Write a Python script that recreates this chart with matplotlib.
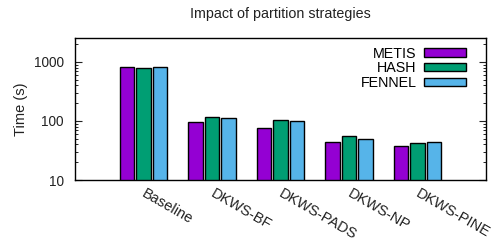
import matplotlib
matplotlib.use("Agg")
import matplotlib.pyplot as plt
import numpy as np
from matplotlib.ticker import LogLocator, NullFormatter, FixedLocator
from matplotlib.transforms import ScaledTranslation

plt.rcParams['font.family'] = ['Liberation Sans', 'DejaVu Sans']

categories = ["Baseline", "DKWS-BF", "DKWS-PADS", "DKWS-NP", "DKWS-PINE"]
series_names = ["METIS", "HASH", "FENNEL"]
metis = [813, 98, 76, 44, 37]
hash_ = [791, 115, 106, 55, 43]
fennel = [833, 112, 100, 49, 44]
colors = ["#9400d3", "#009e73", "#56b4e9"]
yticks = [10, 100, 1000]
ytick_labels = ["10", "100", "1000"]

fig = plt.figure(figsize=(4.97, 2.44), dpi=100)
ax = fig.add_axes([75/497, 1-180/244, (486-75)/497, (180-38)/244])

x = np.arange(len(categories))
w = 0.24
offsets = [-w, 0, w]
for vals, name, c, off in zip([metis, hash_, fennel], series_names, colors, offsets):
    ax.bar(x + off, vals, width=w - 0.025, color=c, edgecolor='black', linewidth=1.0,
           label=name, zorder=2)

ax.set_yscale('log')
ax.set_ylim(10, 2550)
ax.set_xlim(-1, 5)
ax.yaxis.set_major_locator(FixedLocator(yticks))
ax.set_yticklabels(ytick_labels)
ax.yaxis.set_minor_locator(LogLocator(base=10, subs=np.arange(2, 10)))
ax.yaxis.set_minor_formatter(NullFormatter())
ax.tick_params(axis='y', which='major', direction='in', length=5, width=0.8,
               right=True, labelsize=9.8, pad=8, colors='#222222', labelcolor='#222222')
ax.tick_params(axis='y', which='minor', direction='in', length=2.5, width=0.6, right=True)
ax.set_xticks(x)
ax.set_xticklabels(categories, rotation=-30, ha='left', rotation_mode='anchor',
                   fontsize=10.5, color='#222222')
ax.tick_params(axis='x', length=0, pad=5)
shift = ScaledTranslation(3/100, 0, fig.dpi_scale_trans)
for lbl in ax.get_xticklabels():
    lbl.set_transform(lbl.get_transform() + shift)
for s in ax.spines.values():
    s.set_linewidth(1.0)

ax.set_ylabel("Time (s)", fontsize=10.5, color='#222222', labelpad=4)
fig.text(0.5 * (190 + 371) / 497, 1 - 14/244, "Impact of partition strategies",
         ha='center', va='center', fontsize=10.3, color='#222222')

leg = ax.legend(loc='upper right', markerfirst=False, frameon=False, fontsize=10.3,
                handlelength=2.9, handleheight=0.5, labelspacing=0.05,
                handletextpad=0.55, borderaxespad=0.2, bbox_to_anchor=(0.972, 1.0))

fig.savefig("out.png", dpi=100)
